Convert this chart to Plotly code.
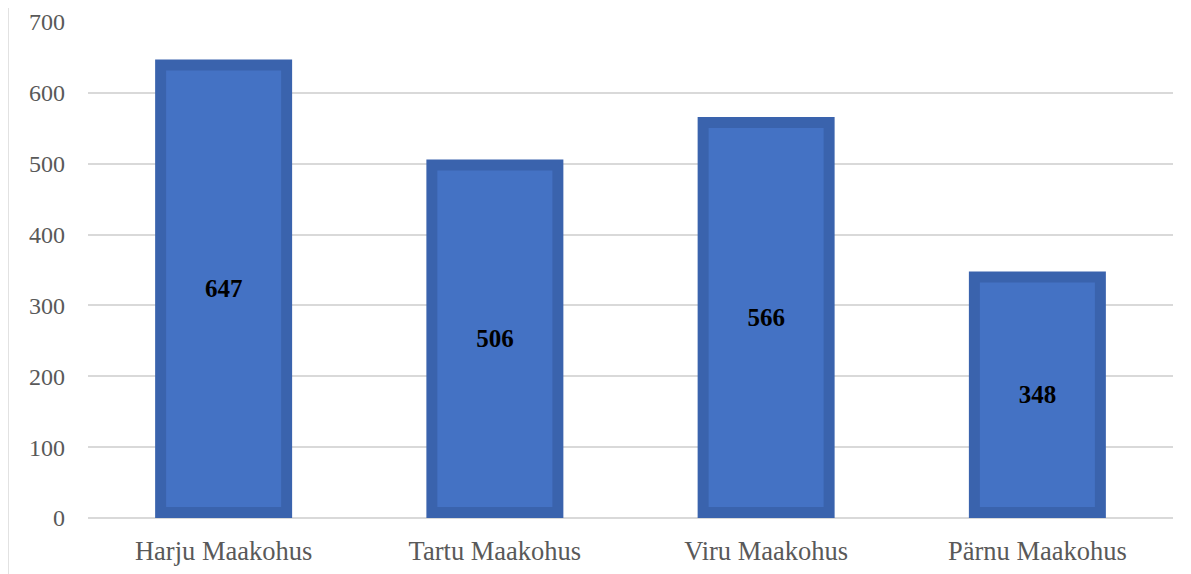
import plotly.graph_objects as go

categories = ["Harju Maakohus", "Tartu Maakohus", "Viru Maakohus", "Pärnu Maakohus"]
values = [647, 506, 566, 348]
y_ticks = [0, 100, 200, 300, 400, 500, 600, 700]

# border thickness expressed in data units (approx 11 px at ~0.7086 px/unit)
border = 15.5

fig = go.Figure()
fig.add_trace(go.Bar(
    x=categories, y=values, width=0.505,
    marker=dict(color="#3A63AD", line=dict(width=0)),
    hoverinfo="skip",
))
fig.add_trace(go.Bar(
    x=categories, y=[v - 2 * border for v in values], base=border, width=0.424,
    marker=dict(color="#4472C4", line=dict(width=0)),
    text=[f"<b>{v}</b>" for v in values],
    textposition="inside", insidetextanchor="middle", textangle=0,
    textfont=dict(family="Liberation Serif", size=25, color="#000000"),
    hoverinfo="skip",
))

fig.update_layout(
    width=1191, height=574,
    barmode="overlay",
    showlegend=False,
    plot_bgcolor="white", paper_bgcolor="white",
    margin=dict(l=80, r=26, t=14, b=64),
    font=dict(family="Liberation Serif", color="#595959"),
)
fig.update_xaxes(
    showgrid=False, showline=False, zeroline=False, automargin=False,
    tickfont=dict(family="Liberation Serif", size=26.5, color="#595959"),
    ticks="", ticklabelstandoff=14,
)
fig.update_yaxes(
    range=[0, 700], tickvals=y_ticks, automargin=False,
    showgrid=True, gridcolor="#D9D9D9", gridwidth=1.5,
    zeroline=True, zerolinecolor="#D9D9D9", zerolinewidth=1.5,
    showline=False, ticks="",
    tickfont=dict(family="Liberation Serif", size=24, color="#595959"),
    ticklabelstandoff=22,
)
fig.add_shape(type="line", xref="paper", yref="paper",
              x0=-80 / 1085, x1=-80 / 1085, y0=-64 / 496, y1=1 + 14 / 496,
              line=dict(color="#D9D9D9", width=1.5))

fig.write_html("out.html")
